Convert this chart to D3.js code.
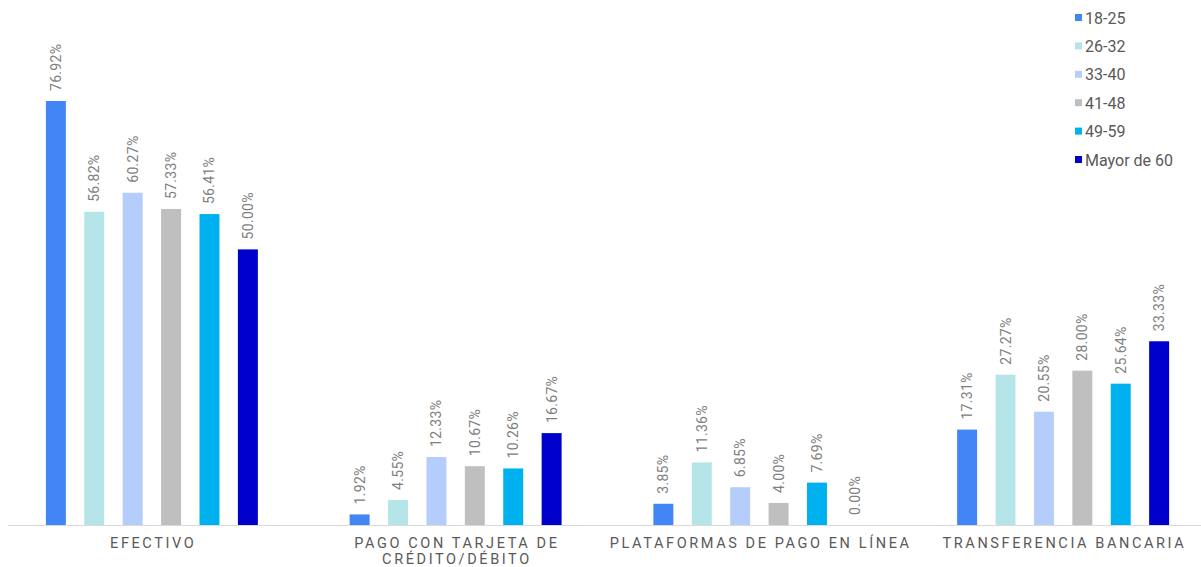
<!DOCTYPE html>
<html>
<head>
<meta charset="utf-8">
<script src="https://cdn.jsdelivr.net/npm/d3@7"></script>
<style>
  html, body { margin: 0; padding: 0; background: #fff; }
  svg { display: block; font-family: Roboto, "Liberation Sans", Arial, sans-serif; }
</style>
</head>
<body>
<svg id="chart" width="1201" height="567"></svg>
<script>
// Payment method preference by age group (%)
const categories = [
  ["EFECTIVO"],
  ["PAGO CON TARJETA DE", "CRÉDITO/DÉBITO"],
  ["PLATAFORMAS DE PAGO EN LÍNEA"],
  ["TRANSFERENCIA BANCARIA"]
];
const ageGroups = ["18-25", "26-32", "33-40", "41-48", "49-59", "Mayor de 60"];
const colors = ["#4286F5", "#B5E5E8", "#B4CDFB", "#BFBFBF", "#00B1F0", "#0000CC"];

// one value per category for each age group
const v18_25   = [76.92, 1.92, 3.85, 17.31];
const v26_32   = [56.82, 4.55, 11.36, 27.27];
const v33_40   = [60.27, 12.33, 6.85, 20.55];
const v41_48   = [57.33, 10.67, 4.00, 28.00];
const v49_59   = [56.41, 10.26, 7.69, 25.64];
const vMayor60 = [50.00, 16.67, 0.00, 33.33];
const series = [v18_25, v26_32, v33_40, v41_48, v49_59, vMayor60];

const svg = d3.select("#chart");
const baseY = 525;

const x0 = d3.scaleBand()
  .domain(d3.range(categories.length))
  .range([0, 1215])
  .padding(0);

const groupWidth = 230.4;
const x1 = d3.scaleBand()
  .domain(d3.range(ageGroups.length))
  .range([-groupWidth / 2, groupWidth / 2])
  .paddingInner(0.48)
  .paddingOuter(0.24);

const y = d3.scaleLinear()
  .domain([0, 76.92])
  .range([baseY, 101]);

// baseline
svg.append("line")
  .attr("x1", 8).attr("x2", 1201)
  .attr("y1", baseY + 0.5).attr("y2", baseY + 0.5)
  .attr("stroke", "#D9D9D9").attr("stroke-width", 1);

const groups = svg.selectAll("g.cat")
  .data(categories)
  .join("g")
  .attr("class", "cat")
  .attr("transform", (d, i) => `translate(${x0(i) + x0.bandwidth() / 2},0)`);

groups.each(function(cat, ci) {
  const g = d3.select(this);
  const rows = series.map((s, si) => ({ si, value: s[ci] }));

  g.selectAll("rect")
    .data(rows)
    .join("rect")
    .attr("x", d => x1(d.si))
    .attr("width", x1.bandwidth())
    .attr("y", d => y(d.value))
    .attr("height", d => baseY - y(d.value))
    .attr("fill", d => colors[d.si]);

  g.selectAll("text.val")
    .data(rows)
    .join("text")
    .attr("class", "val")
    .attr("transform", d => `translate(${x1(d.si) + x1.bandwidth() / 2 + 5},${y(d.value) - 10}) rotate(-90)`)
    .attr("font-size", 14)
    .attr("letter-spacing", 0.3)
    .attr("fill", "#808080")
    .text(d => d.value.toFixed(2) + "%");

  const lbl = g.append("text")
    .attr("text-anchor", "middle")
    .attr("font-size", 14.5)
    .attr("letter-spacing", 2.6)
    .attr("fill", "#595959");
  cat.forEach((line, li) => {
    lbl.append("tspan")
      .attr("x", 1.3)
      .attr("y", 547.5 + li * 16)
      .text(line);
  });
});

// legend
const legend = svg.append("g").attr("transform", "translate(1075,18)");
const items = legend.selectAll("g")
  .data(ageGroups)
  .join("g")
  .attr("transform", (d, i) => `translate(0,${i * 28.4})`);
items.append("rect")
  .attr("x", 0).attr("y", -4)
  .attr("width", 7).attr("height", 7)
  .attr("fill", (d, i) => colors[i]);
items.append("text")
  .attr("x", 10).attr("y", 5.5)
  .attr("font-size", 16)
  .attr("fill", "#595959")
  .text(d => d);
</script>
</body>
</html>
